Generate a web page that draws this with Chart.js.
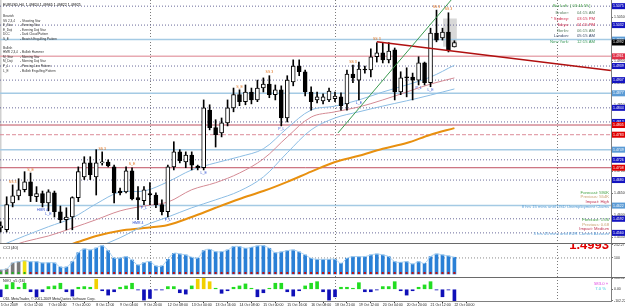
<!DOCTYPE html>
<html>
<head>
<meta charset="utf-8">
<script src="https://cdn.jsdelivr.net/npm/chart.js@4.4.0/dist/chart.umd.min.js"></script>
<style>
  html, body { margin: 0; padding: 0; background: #fff; }
  #wrap { position: relative; width: 625px; height: 308px; overflow: hidden; }
  canvas { position: absolute; left: 0; }
  #main { top: 0; }
  #cci { top: 243px; }
  #nvo { top: 277px; }
</style>
</head>
<body>
<div id="wrap">
  <canvas id="main" width="625" height="243"></canvas>
  <canvas id="cci" width="625" height="34"></canvas>
  <canvas id="nvo" width="625" height="31"></canvas>
</div>
<script>
// EURUSD H4 candles, 5 Oct 2009 -> 22 Oct 2009
const opens = [1.4571,1.4567,1.4628,1.4644,1.4658,1.4676,1.4642,1.4649,1.4628,1.4651,
  1.4608,1.4590,1.4596,1.4640,1.4687,1.4719,1.4687,1.4719,1.4721,1.4710,
  1.4655,1.4653,1.4701,1.4640,1.4633,1.4649,1.4646,1.4624,1.4608,1.4710,
  1.4744,1.4721,1.4737,1.4712,1.4708,1.4839,1.4799,1.4787,1.4810,1.4844,
  1.4874,1.4858,1.4880,1.4862,1.4889,1.4898,1.4874,1.4885,1.4821,1.4903,
  1.4939,1.4926,1.4880,1.4862,1.4860,1.4862,1.4865,1.4869,1.4853,1.4921,
  1.4907,1.4932,1.4930,1.4960,1.4969,1.4953,1.4976,1.4880,1.4914,1.4914,
  1.4907,1.4946,1.4901,1.5014,1.5003,1.5016,1.49824];
const highs = [1.4585,1.4642,1.4669,1.4683,1.4699,1.4696,1.4665,1.4655,1.4658,1.4655,
  1.4621,1.4617,1.4642,1.4710,1.4733,1.4733,1.4749,1.4744,1.4726,1.4714,
  1.4662,1.4710,1.4708,1.4665,1.4665,1.4674,1.4651,1.4635,1.4714,1.4767,
  1.4749,1.4744,1.4744,1.4714,1.4862,1.4851,1.4817,1.4821,1.4862,1.4889,
  1.4885,1.4896,1.4889,1.4907,1.4912,1.4917,1.4896,1.4894,1.4917,1.4953,
  1.4953,1.4930,1.4892,1.4880,1.4876,1.4889,1.4880,1.4878,1.4930,1.4941,
  1.4948,1.4939,1.4978,1.4992,1.4992,1.4992,1.4980,1.4926,1.4935,1.4923,
  1.4960,1.4948,1.5025,1.5066,1.5025,1.5060,1.49965];
const lows = [1.4562,1.4562,1.4619,1.4635,1.4653,1.4631,1.4631,1.4619,1.4610,1.4596,
  1.4583,1.4567,1.4567,1.4631,1.4681,1.4681,1.4646,1.4714,1.4710,1.4628,
  1.4646,1.4651,1.4635,1.4590,1.4624,1.4624,1.4617,1.4601,1.4596,1.4703,
  1.4719,1.4708,1.4703,1.4703,1.4703,1.4794,1.4755,1.4778,1.4803,1.4835,
  1.4849,1.4851,1.4853,1.4858,1.4880,1.4867,1.4862,1.4803,1.4812,1.4894,
  1.4917,1.4871,1.4839,1.4855,1.4853,1.4858,1.4858,1.4839,1.4839,1.4901,
  1.4862,1.4923,1.4914,1.4948,1.4946,1.4946,1.4862,1.4874,1.4869,1.4862,
  1.4896,1.4896,1.4892,1.4994,1.4998,1.4971,1.49822];
const closes = [1.4576,1.4624,1.4644,1.4658,1.4676,1.4644,1.4649,1.4628,1.4653,1.4608,
  1.4590,1.4596,1.4640,1.4699,1.4719,1.4692,1.4719,1.4721,1.4712,1.4651,
  1.4651,1.4701,1.4637,1.4635,1.4658,1.4646,1.4624,1.4608,1.4710,1.4744,
  1.4724,1.4737,1.4714,1.4708,1.4844,1.4799,1.4783,1.4810,1.4844,1.4874,
  1.4858,1.4880,1.4862,1.4889,1.4898,1.4874,1.4885,1.4821,1.4907,1.4939,
  1.4926,1.4880,1.4858,1.4869,1.4869,1.4882,1.4871,1.4849,1.4921,1.4912,
  1.4932,1.4930,1.4960,1.4969,1.4953,1.4973,1.4880,1.4912,1.4912,1.4907,
  1.4946,1.4901,1.5014,1.4998,1.5016,1.4976,1.49925];

// moving averages, read every 4th bar
const maBars  = [0,4,8,12,16,20,24,28,32,36,40,44,48,52,56,60,64,68,72,76];
const maUpper = [1.4531,1.4553,1.4574,1.4594,1.4626,1.4653,1.4655,1.4676,1.4703,1.4719,1.4733,1.4751,1.4798,1.4839,1.4848,1.4862,1.4880,1.4896,1.4914,1.4941];
const maMid   = [1.4522,1.4540,1.4553,1.4571,1.4590,1.4610,1.4621,1.4630,1.4658,1.4674,1.4696,1.4728,1.4778,1.4823,1.4835,1.4846,1.4862,1.4880,1.4898,1.4912];
const maLower = [null,null,null,null,1.4526,1.4549,1.4576,1.4596,1.4617,1.4635,1.4655,1.4687,1.4742,1.4794,1.4821,1.4835,1.4848,1.4860,1.4873,1.4887];
const maSlow  = [null,null,1.4520,1.4535,1.4553,1.4565,1.4571,1.4578,1.4596,1.4617,1.4637,1.4655,1.4676,1.4699,1.4721,1.4735,1.4751,1.4764,1.4783,1.4798];

// horizontal levels and trend lines
const dottedLevels = [1.5075,1.5032,1.4939,1.4907,1.4844,1.4812,1.4726,1.4680,1.4592,1.4560];
const blueLevels = [1.4999,1.4877,1.4749,1.4622];
const pinkLevels = [1.4961];
const redLevels = [1.4805,1.4708];
const dashLevels = [1.4783];
const greenTrend = [[56.5, 1.4787], [76.9, 1.5112]];
const redTrend = [[63.0, 1.4994], [102.2, 1.4929]];
const lastPrice = 1.49925;
const bidText = '1.4993';
const sepBars = [25, 56, 93.2];
const shadeBars = [74.1, 76.4];
const shadePrices = [1.5047, 1.4983];

// candle pattern marks
const patternBars  = [2,5,7,8,17,22,23,24,28,34,40,45,47,59,60,63,70,72,73,75];
const patternTexts = ['SS 3','S_E','HMR 4','L_E','SS 3','S_E','HMR 4','P_L','P_L','L_E','S_E','SS 3','P_L','SS 3','L_E','SS 3','P_L','L_E','SS 3','SS 3'];
const patternTypes = ['bear','bear','bull','bull','bear','bear','bull','bull','bull','bull','bear','bear','bull','bear','bull','bear','bull','bull','bear','bear'];

// CCI (40)
const cciValues = [-41,-29,41,56,68,56,56,41,44,41,
  -6,-6,56,161,205,193,216,243,185,99,
  99,115,76,17,44,56,6,6,84,154,
  146,135,108,99,185,201,173,173,193,232,
  232,213,225,240,243,213,161,170,185,193,
  170,135,96,84,84,84,84,37,96,115,
  115,115,135,146,135,115,56,49,56,29,
  56,37,115,146,135,123,108];
const cciGray = [0,1,2,3];
const cciYellow = [4];
const cciGreenMarks = [0,1,2,3,4];
const cciFloor = -88;
const cciTicks = [252.27, 100];

// NVO_v5 (16)
const nvoValues = [-67,39,59,18,54,-22,-67,-22,24,30,
  54,-22,-61,18,24,18,90,-13,-52,-22,
  18,30,54,-6,-97,-82,-6,-6,24,24,
  -31,-43,30,90,99,68,9,-36,-13,18,
  30,48,9,-67,-31,9,54,54,-22,-61,
  -13,30,54,68,-22,-97,-67,18,18,9,
  59,-22,-22,-6,24,24,68,-13,-52,-13,
  18,39,68,-6,-67,-6,-104];
const nvoYellow = [16,33,34,35];
const nvoTicks = [100.51, 0, -102.22];

const priceTicks = [1.455,1.46,1.465,1.47,1.475,1.48,1.485,1.49,1.495,1.5,1.505];
const tickBars = [0,4,8,12,16,20,24,28,32,36,40,44,48,52,56,60,64,68,72,76];
const tickLabels = ['5 Oct 2009','6 Oct 12:00','7 Oct 04:00','7 Oct 20:00','8 Oct 12:00','9 Oct 04:00','9 Oct 20:00',
  '12 Oct 08:00','13 Oct 00:00','13 Oct 16:00','14 Oct 08:00','15 Oct 00:00','15 Oct 16:00','16 Oct 08:00',
  '18 Oct 21:00','19 Oct 12:00','20 Oct 04:00','20 Oct 20:00','21 Oct 12:00','22 Oct 04:00'];

const legendBearish = [['SS 2,3,4','- Shooting Star'],['E_Star','- Evening Star'],['E_Doji','- Evening Doji Star'],['DCC','- Dark Cloud Pattern'],['S_E','- Bearish Engulfing Pattern']];
const legendBullish = [['HMR 2,3,4','- Bullish Hammer'],['M_Star','- Morning Star'],['M_Doji','- Morning Doji Star'],['P_L','- Piercing Line Pattern'],['L_E','- Bullish Engulfing Pattern']];
const clockRows = [['Broker:','04:15 AM'],['* Sydney:','03:15 PM'],['Tokyo:','01:15 PM'],['Berlin:','06:15 AM'],['London:','05:15 AM'],['New York:','12:15 AM']];
const clockColors = ['#5a8060','#d02848','#d02848','#5a8060','#3a4a6a','#3a9a5a'];
const newsTexts = [
  ['Forecast: 590K','Previous: 554K','Impact: High','8 hrs 15 mins until USD Unemployment Claims'],
  ['Forecast: 1.66','Previous: 0.68','Impact: Medium','3 hrs 45 mins until EUR Current Account']];
const newsLevels = [1.4622, 1.4560];
const newsColors = ['#40a040','#c8a070','#c03050','#5aa0d8'];

const family = "'Liberation Sans', Arial, sans-serif";
Chart.defaults.font.family = family;
const xMin = -0.117, xMax = 102.23;
const bars = opens.map((_, i) => i);

function txt(ctx, s, x, y, color, size, align, base, bold) {
  ctx.save();
  ctx.font = (bold ? 'bold ' : '') + size + 'px ' + family;
  ctx.fillStyle = color;
  ctx.textAlign = align || 'left';
  ctx.textBaseline = base || 'middle';
  ctx.fillText(s, x, y);
  ctx.restore();
}

function vSeparators(chart) {
  const {ctx, chartArea: a, scales: {x}} = chart;
  ctx.save();
  ctx.strokeStyle = '#7a7a7a';
  ctx.lineWidth = 1;
  ctx.setLineDash([1, 2]);
  sepBars.forEach(b => {
    const px = Math.round(x.getPixelForValue(b)) + 0.5;
    ctx.beginPath(); ctx.moveTo(px, a.top); ctx.lineTo(px, a.bottom); ctx.stroke();
  });
  ctx.restore();
}

function topRule(chart) {
  const ctx = chart.ctx;
  ctx.save();
  ctx.fillStyle = '#6a6a6a';
  ctx.fillRect(0, 0, chart.width, 1);
  ctx.restore();
}

function rightAxis(min, max, tickVals, fmt) {
  return {
    position: 'right', min, max,
    afterFit: s => { s.width = 14; s.paddingTop = 0; s.paddingBottom = 0; },
    afterBuildTicks: s => { s.ticks = tickVals.map(v => ({value: v})); },
    ticks: { font: {size: 3.5}, color: '#303030', padding: 1, callback: fmt },
    grid: { drawOnChartArea: false, tickLength: 2, color: '#707070' },
    border: { color: '#808080' }
  };
}

function hiddenX() {
  return { type: 'linear', min: xMin, max: xMax, offset: false, display: false };
}

function levelSet(levels, color, width, dash) {
  return levels.map(p => ({
    type: 'line', data: [{x: xMin, y: p}, {x: xMax, y: p}],
    borderColor: color, borderWidth: width, borderDash: dash,
    pointRadius: 0, fill: false, order: 10
  }));
}

function maSet(vals, color, width) {
  return {
    type: 'line',
    data: maBars.map((b, j) => ({x: b, y: vals[j]})).filter(d => d.y !== null),
    borderColor: color, borderWidth: width, pointRadius: 0, tension: 0.35, fill: false, order: 4
  };
}

function trendSet(points, color, width) {
  return {
    type: 'line', data: points.map(([b, p]) => ({x: b, y: p})),
    borderColor: color, borderWidth: width, pointRadius: 0, fill: false, order: 0
  };
}

const mainDecor = {
  id: 'mainDecor',
  beforeDatasetsDraw(chart) {
    const {ctx, chartArea: a, scales: {x, y}} = chart;
    ctx.save();
    ctx.fillStyle = '#d0d0d0';
    ctx.fillRect(0, a.top, 1.5, a.bottom - a.top);
    const x0 = x.getPixelForValue(shadeBars[0]), x1 = x.getPixelForValue(shadeBars[1]);
    const y0 = y.getPixelForValue(shadePrices[0]), y1 = y.getPixelForValue(shadePrices[1]);
    ctx.fillStyle = '#d8d8d8';
    ctx.fillRect(x0, y0, x1 - x0, y1 - y0);
    ctx.restore();
    vSeparators(chart);
  },
  afterDatasetsDraw(chart) {
    const {ctx, scales: {x, y}} = chart;
    patternBars.forEach((b, k) => {
      const bull = patternTypes[k] === 'bull';
      const px = x.getPixelForValue(b);
      const py = bull ? y.getPixelForValue(lows[b]) + 1.5 : y.getPixelForValue(highs[b]) - 1.5;
      txt(ctx, patternTexts[k], px, py, bull ? '#2a4cd0' : '#e0701a', 3.5, 'center', bull ? 'top' : 'bottom');
    });

    // header and pattern legend
    txt(ctx, 'EURUSD,H4  1.49824 1.49965 1.49822 1.49925', 3, 5, '#000', 3.6);
    txt(ctx, 'Bearish', 3, 15.7, '#303030', 3.2);
    legendBearish.forEach((r, j) => {
      txt(ctx, r[0], 3, 20.7 + j * 4.6, '#303030', 3.1);
      txt(ctx, r[1], 20, 20.7 + j * 4.6, '#303030', 3.1);
    });
    txt(ctx, 'Bullish', 3, 47.7, '#303030', 3.2);
    legendBullish.forEach((r, j) => {
      txt(ctx, r[0], 3, 52.3 + j * 4.6, '#303030', 3.1);
      txt(ctx, r[1], 20, 52.3 + j * 4.6, '#303030', 3.1);
    });

    // session clock
    txt(ctx, 'Bar Left : [ 03:44:59 ]', 553, 6, '#3c9a3c', 4);
    clockRows.forEach((r, j) => {
      const yy = 13.3 + j * 5.7;
      txt(ctx, r[0], 569, yy, clockColors[j], 4.2, 'right');
      txt(ctx, r[1], 577, yy, clockColors[j], 4.2, 'left');
    });

    // news blocks sitting on their levels
    newsTexts.forEach((rows, n) => {
      const yb = y.getPixelForValue(newsLevels[n]) + 1;
      rows.forEach((s, j) => {
        txt(ctx, s, 609, yb - (rows.length - 1 - j) * 4.7, newsColors[j], 4.2, 'right');
      });
    });
  },
  afterDraw(chart) {
    const {ctx, chartArea: a, scales: {y}} = chart;
    const boxes = [[dottedLevels, '#1414c0'], [blueLevels, '#5b9bd5'], [pinkLevels, '#e03048'],
      [redLevels, '#e00000'], [dashLevels, '#e00000'], [[lastPrice], '#000000']];
    boxes.forEach(([levels, color]) => {
      levels.forEach(p => {
        const py = y.getPixelForValue(p);
        ctx.fillStyle = color;
        ctx.fillRect(a.right + 1, py - 3, 14, 6);
        txt(ctx, p.toFixed(4), a.right + 2, py, '#ffffff', 3.5);
      });
    });
  }
};

new Chart(document.getElementById('main'), {
  type: 'bar',
  data: {
    datasets: [
      { data: bars.map(i => ({x: i, y: [lows[i], highs[i]]})), backgroundColor: '#000',
        barThickness: 1, grouped: false, order: 2 },
      { data: bars.map(i => ({x: i, y: [opens[i], closes[i]]})),
        backgroundColor: bars.map(i => closes[i] >= opens[i] ? '#ffffff' : '#000000'),
        borderColor: '#000', borderWidth: 1, borderSkipped: false, barThickness: 4,
        minBarLength: 1, grouped: false, order: 1 },
      maSet(maUpper, '#8cbde4', 1),
      maSet(maMid, '#d48a94', 1),
      maSet(maLower, '#8cbde4', 1),
      maSet(maSlow, '#e8900f', 2),
      ...levelSet(dottedLevels, '#6a6a9a', 1, [1, 2]),
      ...levelSet(blueLevels, '#a4cae4', 1.5, []),
      ...levelSet(pinkLevels, '#e8aab2', 1.5, []),
      ...levelSet(redLevels, '#bf5060', 1, []),
      ...levelSet(dashLevels, '#dc8c98', 1, [4, 2]),
      trendSet(greenTrend, '#3a9a50', 1),
      trendSet(redTrend, '#b01010', 1.5)
    ]
  },
  options: {
    responsive: false, animation: false, events: [],
    layout: { padding: 0 },
    plugins: { legend: { display: false }, tooltip: { enabled: false } },
    scales: {
      x: hiddenX(),
      y: rightAxis(1.4537, 1.5089, priceTicks, v => v.toFixed(5))
    }
  },
  plugins: [mainDecor]
});

const cciDecor = {
  id: 'cciDecor',
  beforeDatasetsDraw(chart) { vSeparators(chart); },
  afterDatasetsDraw(chart) {
    const {ctx, scales: {x, y}} = chart;
    const by = y.getPixelForValue(cciFloor);
    bars.forEach(i => {
      ctx.fillStyle = cciGreenMarks.includes(i) ? '#20b020' : '#c01010';
      ctx.fillRect(x.getPixelForValue(i) - 1, by - 2, 2, 2);
    });
    txt(ctx, 'CCI (40)', 3, 4.5, '#202020', 4);
    txt(ctx, bidText, 609, 5.5, '#e00000', 13, 'right', 'alphabetic', true);
  },
  afterDraw(chart) { topRule(chart); }
};

new Chart(document.getElementById('cci'), {
  type: 'bar',
  data: {
    datasets: [
      { data: bars.map(i => ({x: i, y: cciValues[i]})), base: cciFloor,
        backgroundColor: bars.map(i => cciYellow.includes(i) ? '#f0e010' : cciGray.includes(i) ? '#7a7a7a' : '#2a80d6'),
        barThickness: 3, grouped: false, order: 2 },
      { type: 'line', data: bars.map(i => ({x: i, y: cciValues[i]})), borderColor: '#a8d0f0',
        borderWidth: 1, pointRadius: 0, tension: 0.4, fill: false, order: 1 },
      { type: 'line', data: [{x: xMin, y: 100}, {x: xMax, y: 100}], borderColor: '#8a8a8a',
        borderWidth: 1, borderDash: [1, 2], pointRadius: 0, fill: false, order: 3 }
    ]
  },
  options: {
    responsive: false, animation: false, events: [],
    layout: { padding: 0 },
    plugins: { legend: { display: false }, tooltip: { enabled: false } },
    scales: {
      x: hiddenX(),
      y: rightAxis(-123, 275, cciTicks, v => String(v))
    }
  },
  plugins: [cciDecor]
});

const nvoDecor = {
  id: 'nvoDecor',
  beforeDatasetsDraw(chart) { vSeparators(chart); },
  afterDatasetsDraw(chart) {
    const ctx = chart.ctx;
    txt(ctx, 'NVO_v5 (16)', 3, 3.5, '#202020', 3.8);
    txt(ctx, 'ODL MetaTrader, \u00a9 2001-2009 MetaQuotes Software Corp.', 3, 22.3, '#202020', 3.5);
    txt(ctx, '583.0 \u00bb', 608, 6.5, '#e040e0', 4.2, 'right');
    txt(ctx, '7.0 %', 606, 12, '#40c8e0', 4.2, 'right');
  },
  afterDraw(chart) { topRule(chart); }
};

new Chart(document.getElementById('nvo'), {
  type: 'bar',
  data: {
    datasets: [
      { data: bars.map(i => ({x: i, y: nvoValues[i]})),
        backgroundColor: bars.map(i => nvoYellow.includes(i) ? '#f2d000' : nvoValues[i] >= 0 ? '#22dd22' : '#1010b8'),
        barThickness: 3, grouped: false }
    ]
  },
  options: {
    responsive: false, animation: false, events: [],
    layout: { padding: 0 },
    plugins: { legend: { display: false }, tooltip: { enabled: false } },
    scales: {
      x: {
        type: 'linear', min: xMin, max: xMax, offset: false,
        afterBuildTicks: s => { s.ticks = tickBars.map(v => ({value: v})); },
        afterFit: s => { s.height = 7; s.paddingLeft = 0; s.paddingRight = 0; },
        ticks: { autoSkip: false, maxRotation: 0, minRotation: 0, align: 'start', padding: 0,
          font: { size: 3.5 }, color: '#202020', callback: (v, i) => tickLabels[i] },
        grid: { drawOnChartArea: false, tickLength: 2, color: '#404040' },
        border: { color: '#808080' }
      },
      y: rightAxis(-105, 110, nvoTicks, v => v.toFixed(2))
    }
  },
  plugins: [nvoDecor]
});
</script>
</body>
</html>
